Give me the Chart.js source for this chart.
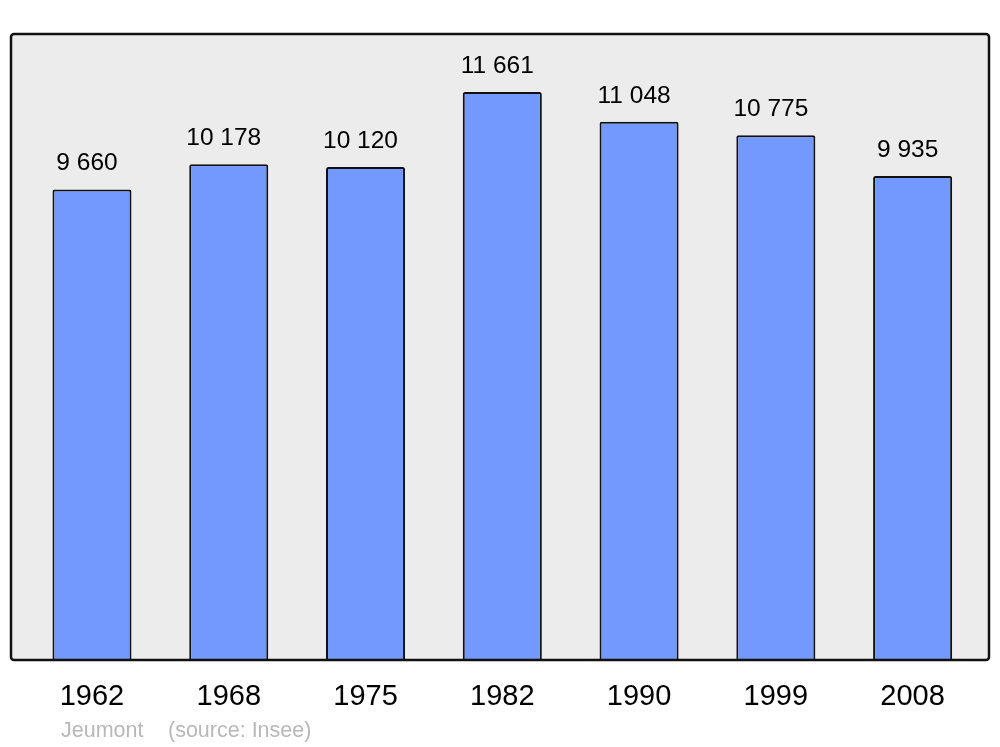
<!DOCTYPE html>
<html>
<head>
<meta charset="utf-8">
<script src="https://cdn.jsdelivr.net/npm/chart.js@4/dist/chart.umd.min.js"></script>
<style>
html,body{margin:0;padding:0;background:#fff;}
#wrap{width:1000px;height:747px;position:relative;}
</style>
</head>
<body>
<div id="wrap"><canvas id="c" width="1000" height="747"></canvas></div>
<script>
const years = ["1962", "1968", "1975", "1982", "1990", "1999", "2008"];
const population = [9660, 10178, 10120, 11661, 11048, 10775, 9935];
const placeName = "Jeumont";
const sourceText = "(source: Insee)";
const yMax = 12852;

function fmt(v){ return String(v).replace(/\B(?=(\d{3})+(?!\d))/g, " "); }

const framePlugin = {
  id: 'frame',
  beforeDraw(chart){
    const {ctx, chartArea:a} = chart;
    const l = a.left - 12.6, r = a.right + 8, t = a.top, b = a.bottom;
    ctx.save();
    ctx.beginPath();
    if (ctx.roundRect) ctx.roundRect(l, t, r - l, b - t, 3); else ctx.rect(l, t, r - l, b - t);
    ctx.fillStyle = '#ececec';
    ctx.fill();
    ctx.restore();
  },
  afterDatasetsDraw(chart){
    const {ctx, chartArea:a} = chart;
    const l = a.left - 12.6, r = a.right + 8, t = a.top, b = a.bottom;
    ctx.save();
    ctx.beginPath();
    if (ctx.roundRect) ctx.roundRect(l, t, r - l, b - t, 3); else ctx.rect(l, t, r - l, b - t);
    ctx.lineWidth = 2.5;
    ctx.strokeStyle = '#111';
    ctx.stroke();
    // value labels
    const meta = chart.getDatasetMeta(0);
    ctx.fillStyle = '#000';
    ctx.font = '24.5px "Liberation Sans", Arial, sans-serif';
    ctx.textAlign = 'center';
    ctx.textBaseline = 'alphabetic';
    meta.data.forEach((bar, i) => {
      ctx.fillText(fmt(population[i]), bar.x - 5, bar.y - 19);
    });
    // footer
    ctx.fillStyle = '#b8b8b8';
    ctx.font = '21.5px "Liberation Sans", Arial, sans-serif';
    ctx.textAlign = 'left';
    ctx.fillText(placeName, 61, 737);
    ctx.fillText(sourceText, 168, 737);
    ctx.restore();
  }
};

new Chart(document.getElementById('c'), {
  type: 'bar',
  data: {
    labels: years,
    datasets: [{
      data: population,
      backgroundColor: '#7399ff',
      borderColor: '#111',
      borderWidth: 2,
      borderRadius: 2,
      borderSkipped: 'bottom',
      barPercentage: 0.578,
      categoryPercentage: 1
    }]
  },
  options: {
    responsive: false,
    animation: false,
    events: [],
    layout: { padding: { left: 23.6, right: 19, top: 34, bottom: 0 } },
    plugins: { legend: { display: false }, tooltip: { enabled: false }, title: { display: false } },
    scales: {
      x: {
        grid: { display: false, drawTicks: false },
        border: { display: false },
        ticks: {
          color: '#000',
          font: { size: 29, family: '"Liberation Sans", Arial, sans-serif' },
          padding: 20,
          maxRotation: 0
        },
        afterFit(scale){ scale.height = 87; }
      },
      y: {
        display: false,
        min: 0,
        max: yMax
      }
    }
  },
  plugins: [framePlugin]
});
</script>
</body>
</html>
